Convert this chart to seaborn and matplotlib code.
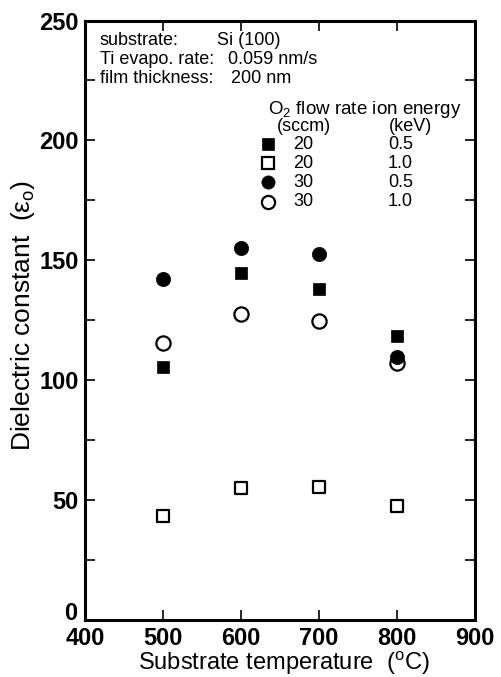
import pandas as pd
import numpy as np
import matplotlib
matplotlib.use('Agg')
import matplotlib.pyplot as plt
import seaborn as sns
from matplotlib.ticker import MultipleLocator, FuncFormatter

# ==================== data ====================
temps = [500, 600, 700, 800]
eps_20_05 = [105.5, 144.5, 138.0, 118.5]   # filled square
eps_20_10 = [43.5, 55.0, 55.5, 47.5]       # open square
eps_30_05 = [142.0, 155.0, 152.5, 109.5]   # filled circle
eps_30_10 = [115.5, 127.5, 124.5, 107.0]   # open circle

legend_flows = ['20', '20', '30', '30']
legend_energies = ['0.5', '1.0', '0.5', '1.0']

info_keys = ['substrate:', 'Ti evapo. rate:', 'film thickness:']
info_vals = ['Si (100)', '0.059 nm/s', '200 nm']

# ==================== style ====================
sns.set_theme(style='ticks')
plt.rcParams['font.family'] = ['Liberation Sans', 'DejaVu Sans']
plt.rcParams['mathtext.fontset'] = 'custom'
plt.rcParams['mathtext.rm'] = 'Liberation Sans'
plt.rcParams['mathtext.it'] = 'Liberation Sans:italic'
for key in ['text.color', 'axes.labelcolor', 'xtick.color', 'ytick.color',
            'axes.edgecolor']:
    plt.rcParams[key] = 'black'

# series order: open circles go under filled circles (see 800 C)
series = [
    ('20 sccm / 0.5 keV', eps_20_05, 's', True),
    ('20 sccm / 1.0 keV', eps_20_10, 's', False),
    ('30 sccm / 1.0 keV', eps_30_10, 'o', False),
    ('30 sccm / 0.5 keV', eps_30_05, 'o', True),
]
frames = []
for name, vals, mk, filled in series:
    frames.append(pd.DataFrame({'temp': temps, 'eps': vals, 'set': name}))
df = pd.concat(frames, ignore_index=True)

fig = plt.figure(figsize=(5.02, 6.77), dpi=100)
ax = fig.add_axes([0.170, 0.0842, 0.776, 0.8855])

for name, vals, mk, filled in series:
    sub = df[df['set'] == name]
    size = 80 if mk == 's' else 105
    sns.scatterplot(data=sub, x='temp', y='eps', marker=mk, s=size,
                    color='black' if filled else 'white',
                    edgecolor='black', linewidth=1.6 if not filled else 0.5,
                    ax=ax, legend=False, zorder=3)

ax.set_xlim(400, 900)
ax.set_ylim(0, 250)
ax.xaxis.set_major_locator(MultipleLocator(100))
ax.yaxis.set_major_locator(MultipleLocator(50))
ax.yaxis.set_minor_locator(MultipleLocator(25))
# the y "0" is drawn separately, a little above the corner as in the original
ax.yaxis.set_major_formatter(FuncFormatter(lambda v, p: '' if v == 0 else f'{v:.0f}'))
ax.tick_params(which='both', direction='in', top=True, right=True,
               length=7, width=1.2, labelsize=17)
ax.tick_params(axis='y', pad=5)
ax.tick_params(axis='x', pad=5)
for lab in ax.get_xticklabels() + ax.get_yticklabels():
    lab.set_fontweight('bold')
for sp in ax.spines.values():
    sp.set_linewidth(2.2)
    sp.set_color('black')
ax.annotate('0', xy=(0, 0), xycoords='axes fraction', xytext=(-5.5, 5),
            textcoords='offset points', ha='right', va='center',
            fontsize=17, fontweight='bold')

ax.set_xlabel(r'Substrate temperature  ($^{\rm o}$C)', fontsize=17)
ax.set_ylabel(r'Dielectric constant  (ε$_{\rm o}$)', fontsize=19)
ax.xaxis.set_label_coords(0.51, -0.050)
ax.yaxis.set_label_coords(-0.1245, 0.508)

# ==================== info text ====================
info_y = [0.966, 0.935, 0.904]
for k, y in zip(info_keys, info_y):
    ax.text(0.037, y, k, transform=ax.transAxes, fontsize=13, va='center')
for v, y, x in zip(info_vals, info_y, [0.337, 0.366, 0.375]):
    ax.text(x, y, v, transform=ax.transAxes, fontsize=13, va='center')

# ==================== legend ====================
ax.text(0.4685, 0.852, r'O$_2$ flow rate ion energy', transform=ax.transAxes,
        fontsize=13.5, va='center')
ax.text(0.492, 0.823, '(sccm)', transform=ax.transAxes, fontsize=13, va='center')
ax.text(0.779, 0.823, '(keV)', transform=ax.transAxes, fontsize=13, va='center')
leg_marks = [('s', True), ('s', False), ('o', True), ('o', False)]
leg_y = [0.7935, 0.762, 0.730, 0.698]
for (mk, filled), fl, en, y in zip(leg_marks, legend_flows, legend_energies, leg_y):
    ax.plot([0.4685], [y], marker=mk, transform=ax.transAxes, linestyle='none',
            markersize=8.0 if mk == 's' else 9.5,
            markerfacecolor='black' if filled else 'white',
            markeredgecolor='black', markeredgewidth=1.6 if not filled else 0.5,
            clip_on=False)
    ax.text(0.533, y, fl, transform=ax.transAxes, fontsize=13, va='center')
    ax.text(0.7766, y, en, transform=ax.transAxes, fontsize=13, va='center')

plt.savefig('out.png', dpi=100)
